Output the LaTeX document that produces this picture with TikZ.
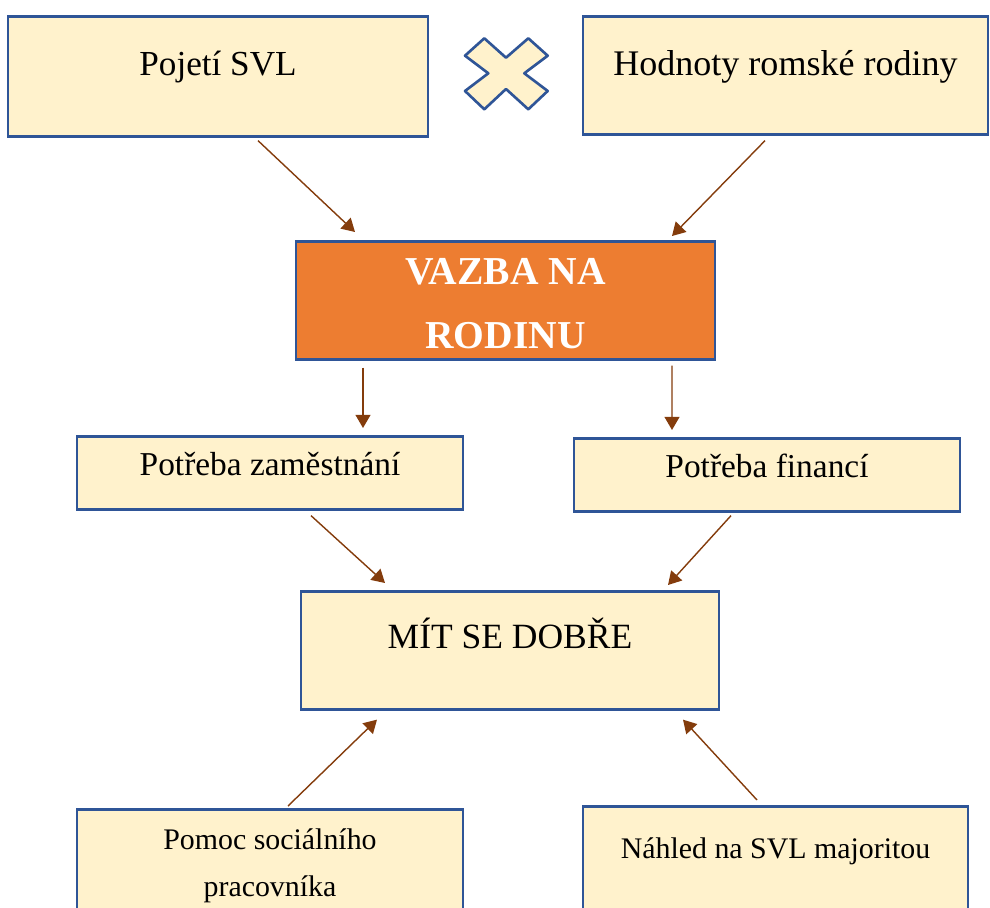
\documentclass[tikz,border=0pt]{standalone}
\usepackage{fontspec}
\setmainfont{Liberation Serif}
\usepackage{tikz}
\usetikzlibrary{arrows.meta}

\definecolor{boxfill}{HTML}{FFF2CC}
\definecolor{boxline}{HTML}{2F5597}
\definecolor{vazbafill}{HTML}{ED7D31}
\definecolor{arrowbrown}{HTML}{843C0C}

\begin{document}
\begin{tikzpicture}[->,>={Triangle[length=7.4pt,width=8.4pt]},thin]
  \tikzstyle{box}=[draw=boxline,fill=boxfill,line width=1.5pt,anchor=north,
                   inner xsep=0pt,inner ysep=0pt,align=center]
  \tikzstyle{link}=[color=arrowbrown,line width=0.8pt]

  \useasboundingbox (0,0) rectangle (19.8,-18.16);

  \node[box,minimum width=8.4cm,text height=1.18cm,text depth=1.22cm,
        font=\fontsize{20}{24}\selectfont] (pojeti) at (4.36,-0.3) {Pojetí SVL};
  \node[box,minimum width=8.1cm,text height=1.18cm,text depth=1.18cm,
        font=\fontsize{20.5}{24}\selectfont] (hodnoty) at (15.71,-0.3) {Hodnoty romské rodiny};

  % cross between the two top boxes
  \filldraw[-,draw=boxline,fill=boxfill,line width=1.5pt,line join=round]
    (9.686,-0.766) -- (10.12,-1.154) -- (10.566,-0.766) -- (10.954,-1.114)
    -- (10.486,-1.466) -- (10.954,-1.82) -- (10.566,-2.186) -- (10.12,-1.78)
    -- (9.686,-2.186) -- (9.3,-1.82) -- (9.766,-1.466) -- (9.3,-1.114) -- cycle;

  \node[box,fill=vazbafill,text=white,minimum width=8.38cm,
        text height=2.14cm,text depth=0.22cm,
        font=\bfseries\fontsize{22.5}{36.3}\selectfont] (vazba) at (10.11,-4.8) {VAZBA NA\\RODINU};

  \node[box,minimum width=7.72cm,text height=0.78cm,text depth=0.68cm,
        font=\fontsize{19}{23}\selectfont] (zamestnani) at (5.4,-8.7) {Potřeba zaměstnání};
  \node[box,minimum width=7.72cm,text height=0.78cm,text depth=0.68cm,
        font=\fontsize{19}{23}\selectfont] (financi) at (15.34,-8.74) {Potřeba financí};

  \node[box,minimum width=8.36cm,text height=1.14cm,text depth=1.22cm,
        font=\fontsize{20.2}{24}\selectfont] (mit) at (10.2,-11.8) {MÍT SE DOBŘE};

  \node[box,minimum width=7.72cm,text height=1.74cm,text depth=0.96cm,
        font=\fontsize{17}{26.6}\selectfont] (pomoc) at (5.4,-16.16) {Pomoc sociálního\\pracovníka};
  \node[box,minimum width=7.7cm,text height=1.04cm,text depth=1.6cm,
        font=\fontsize{17}{21}\selectfont] (nahled) at (15.51,-16.1) {Náhled na SVL majoritou};

  \path[link] ([shift={(0.8,-0.06)}]pojeti.south) edge ([shift={(-3.01,0.16)}]vazba.north)
              ([shift={(-0.41,-0.1)}]hodnoty.south) edge ([shift={(3.33,0.08)}]vazba.north)
              ([shift={(-2.85,-0.14)}]vazba.south) edge ([shift={(1.86,0.14)}]zamestnani.north)
              ([shift={(3.33,-0.1)}]vazba.south) edge ([shift={(-1.9,0.14)}]financi.north)
              ([shift={(0.82,-0.1)}]zamestnani.south) edge ([shift={(-2.5,0.14)}]mit.north)
              ([shift={(-0.72,-0.06)}]financi.south) edge ([shift={(3.16,0.1)}]mit.north)
              ([shift={(0.36,0.04)}]pomoc.north) edge ([shift={(-2.66,-0.18)}]mit.south)
              ([shift={(-0.37,0.1)}]nahled.north) edge ([shift={(3.46,-0.18)}]mit.south);

\end{tikzpicture}
\end{document}
